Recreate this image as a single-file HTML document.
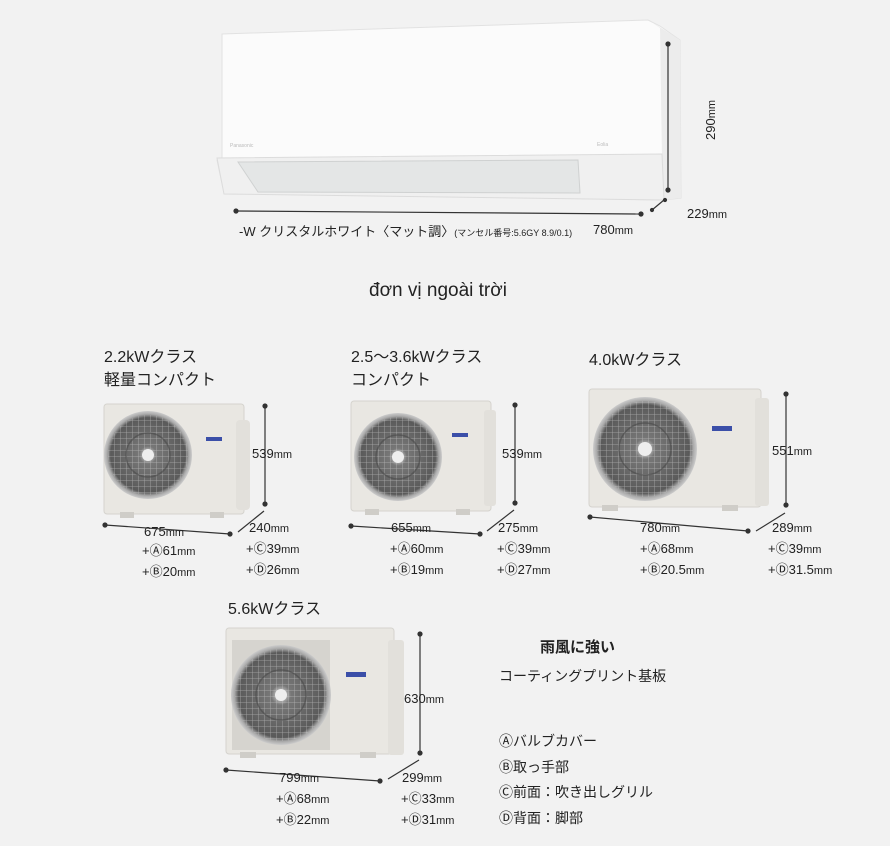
<!DOCTYPE html>
<html><head><meta charset="utf-8"><style>
html,body{margin:0;padding:0;background:#f2f2f2;}
body{width:890px;height:846px;position:relative;overflow:hidden;font-family:"Liberation Sans","Noto Sans CJK JP",sans-serif;color:#222;}
.t{position:absolute;white-space:nowrap;}
svg{position:absolute;left:0;top:0;}
</style></head><body>
<svg width="890" height="846" viewBox="0 0 890 846">
<defs>
<radialGradient id="fan" cx="50%" cy="50%" r="50%">
<stop offset="0" stop-color="#eee"/><stop offset="0.2" stop-color="#777"/><stop offset="0.85" stop-color="#5a5a5a"/><stop offset="0.93" stop-color="#aaa"/><stop offset="1" stop-color="#ccc"/>
</radialGradient>
<pattern id="grill" width="6" height="6" patternUnits="userSpaceOnUse">
<rect width="6" height="6" fill="none"/><path d="M0 0H6M0 0V6" stroke="#ddd" stroke-width="0.8" opacity="0.6"/>
</pattern>
<g id="spokes"><g stroke="#888" stroke-width="1" opacity="0.7">
<line x1="0" y1="-1" x2="0" y2="-1"/></g></g>
</defs>
<!-- indoor unit -->
<path d="M222 34 L648 20 L660 26 L680 40 L681 198 L664 200 L224 193 L217 160 L222 158 Z" fill="#fbfbfb" stroke="#e2e2e2"/>
<path d="M650 21 L680 40 L681 198 L664 200 L662 160 L660 28 Z" fill="#ececec"/>
<path d="M217 158 L662 154 L664 200 L224 194 Z" fill="#f0f0f0" stroke="#dcdcdc"/>
<path d="M238 162 L578 160 L580 193 L258 192 Z" fill="#e4e6e6" stroke="#cfd1d1"/>
<text x="230" y="147" font-size="5" fill="#bbb" font-family="Liberation Sans">Panasonic</text>
<text x="597" y="146" font-size="5" fill="#bbb" font-family="Liberation Sans">Eolia</text>
<!-- indoor dims -->
<g stroke="#333" stroke-width="1.2" fill="#333">
<line x1="668" y1="44" x2="668" y2="190"/><circle cx="668" cy="44" r="2"/><circle cx="668" cy="190" r="2"/>
<line x1="236" y1="211" x2="641" y2="214"/><circle cx="236" cy="211" r="2"/><circle cx="641" cy="214" r="2"/>
<line x1="652" y1="210" x2="664" y2="200"/><circle cx="652" cy="210" r="1.5"/><circle cx="665" cy="200" r="1.5"/>
</g>
<!-- unit 1 -->
<g>
<rect x="104" y="404" width="140" height="110" rx="3" fill="#e9e7e2" stroke="#d5d3ce"/>
<rect x="236" y="420" width="14" height="90" rx="4" fill="#e2e0db"/>
<circle cx="148" cy="455" r="44" fill="url(#fan)"/><circle cx="148" cy="455" r="40" fill="url(#grill)"/><circle cx="148" cy="455" r="6" fill="#eee"/>
<rect x="206" y="437" width="16" height="4" fill="#3b4fa8"/>
<rect x="120" y="512" width="14" height="6" fill="#cfcdc8"/><rect x="210" y="512" width="14" height="6" fill="#cfcdc8"/>
</g>
<!-- unit 2 -->
<g>
<rect x="351" y="401" width="140" height="110" rx="3" fill="#e9e7e2" stroke="#d5d3ce"/>
<rect x="484" y="410" width="12" height="96" rx="3" fill="#e2e0db"/>
<circle cx="398" cy="457" r="44" fill="url(#fan)"/><circle cx="398" cy="457" r="40" fill="url(#grill)"/><circle cx="398" cy="457" r="6" fill="#eee"/>
<rect x="452" y="433" width="16" height="4" fill="#3b4fa8"/>
<rect x="365" y="509" width="14" height="6" fill="#cfcdc8"/><rect x="456" y="509" width="14" height="6" fill="#cfcdc8"/>
</g>
<!-- unit 3 -->
<g>
<rect x="589" y="389" width="172" height="118" rx="3" fill="#e9e7e2" stroke="#d5d3ce"/>
<rect x="755" y="398" width="14" height="108" rx="3" fill="#e2e0db"/>
<circle cx="645" cy="449" r="52" fill="url(#fan)"/><circle cx="645" cy="449" r="48" fill="url(#grill)"/><circle cx="645" cy="449" r="7" fill="#eee"/>
<rect x="712" y="426" width="20" height="5" fill="#3b4fa8"/>
<rect x="602" y="505" width="16" height="6" fill="#cfcdc8"/><rect x="722" y="505" width="16" height="6" fill="#cfcdc8"/>
</g>
<!-- unit 4 -->
<g>
<rect x="226" y="628" width="168" height="126" rx="3" fill="#e9e7e2" stroke="#d5d3ce"/>
<rect x="388" y="640" width="16" height="115" rx="3" fill="#e2e0db"/>
<rect x="232" y="640" width="98" height="110" fill="#d6d4cf"/>
<circle cx="281" cy="695" r="50" fill="url(#fan)"/><circle cx="281" cy="695" r="46" fill="url(#grill)"/><circle cx="281" cy="695" r="6" fill="#eee"/>
<rect x="346" y="672" width="20" height="5" fill="#3b4fa8"/>
<rect x="240" y="752" width="16" height="6" fill="#cfcdc8"/><rect x="360" y="752" width="16" height="6" fill="#cfcdc8"/>
</g>
<g stroke="#333" stroke-width="1.2" fill="#333">
<line x1="265" y1="406" x2="265" y2="504"/><circle cx="265" cy="406" r="2"/><circle cx="265" cy="504" r="2"/>
<line x1="105" y1="525" x2="230" y2="534"/><circle cx="105" cy="525" r="2"/><circle cx="230" cy="534" r="2"/>
<line x1="238" y1="532" x2="264" y2="511"/>
<line x1="515" y1="405" x2="515" y2="503"/><circle cx="515" cy="405" r="2"/><circle cx="515" cy="503" r="2"/>
<line x1="351" y1="526" x2="480" y2="534"/><circle cx="351" cy="526" r="2"/><circle cx="480" cy="534" r="2"/>
<line x1="487" y1="531" x2="514" y2="510"/>
<line x1="786" y1="394" x2="786" y2="505"/><circle cx="786" cy="394" r="2"/><circle cx="786" cy="505" r="2"/>
<line x1="590" y1="517" x2="748" y2="531"/><circle cx="590" cy="517" r="2"/><circle cx="748" cy="531" r="2"/>
<line x1="756" y1="531" x2="785" y2="513"/>
<line x1="420" y1="634" x2="420" y2="753"/><circle cx="420" cy="634" r="2"/><circle cx="420" cy="753" r="2"/>
<line x1="226" y1="770" x2="380" y2="781"/><circle cx="226" cy="770" r="2"/><circle cx="380" cy="781" r="2"/>
<line x1="388" y1="779" x2="419" y2="760"/>
</g>
<!-- spokes -->
<g stroke="#4a4a4a" stroke-width="1.5" fill="none" opacity="0.6">
<circle cx="148" cy="455" r="22"/><circle cx="398" cy="457" r="22"/><circle cx="645" cy="449" r="26"/><circle cx="281" cy="695" r="25"/>
</g>
</svg>
<div class="t" style="left:239px;top:221px;font-size:13px;">-W クリスタルホワイト〈マット調〉<span style="font-size:9px">(マンセル番号:5.6GY 8.9/0.1)</span></div>
<div class="t" style="left:593px;top:222px;font-size:13px;">780<span style="font-size:11px">mm</span></div>
<div class="t" style="left:687px;top:206px;font-size:13px;">229<span style="font-size:11px">mm</span></div>
<div class="t" style="left:703px;top:140px;font-size:13px;transform:rotate(-90deg);transform-origin:left top;">290<span style="font-size:11px">mm</span></div>
<div class="t" style="left:369px;top:280px;font-size:19px;">đơn vị ngoài trời</div>

<div class="t" style="left:104px;top:346px;font-size:16px;line-height:23px;">2.2kWクラス<br>軽量コンパクト</div>
<div class="t" style="left:351px;top:346px;font-size:16px;line-height:23px;">2.5〜3.6kWクラス<br>コンパクト</div>
<div class="t" style="left:589px;top:346px;font-size:16px;">4.0kWクラス</div>
<div class="t" style="left:228px;top:595px;font-size:16px;">5.6kWクラス</div>

<div class="t" style="left:252px;top:446px;font-size:13px;">539<span style="font-size:11px">mm</span></div>
<div class="t" style="left:144px;top:522px;font-size:13px;line-height:19px;">675<span style="font-size:11px">mm</span></div>
<div class="t" style="left:142px;top:541px;font-size:13px;line-height:19px;">+Ⓐ61<span style="font-size:11px">mm</span><br>+Ⓑ20<span style="font-size:11px">mm</span></div>
<div class="t" style="left:249px;top:520px;font-size:13px;">240<span style="font-size:11px">mm</span></div>
<div class="t" style="left:246px;top:539px;font-size:13px;line-height:19px;">+Ⓒ39<span style="font-size:11px">mm</span><br>+Ⓓ26<span style="font-size:11px">mm</span></div>

<div class="t" style="left:502px;top:446px;font-size:13px;">539<span style="font-size:11px">mm</span></div>
<div class="t" style="left:391px;top:520px;font-size:13px;">655<span style="font-size:11px">mm</span></div>
<div class="t" style="left:390px;top:539px;font-size:13px;line-height:19px;">+Ⓐ60<span style="font-size:11px">mm</span><br>+Ⓑ19<span style="font-size:11px">mm</span></div>
<div class="t" style="left:498px;top:520px;font-size:13px;">275<span style="font-size:11px">mm</span></div>
<div class="t" style="left:497px;top:539px;font-size:13px;line-height:19px;">+Ⓒ39<span style="font-size:11px">mm</span><br>+Ⓓ27<span style="font-size:11px">mm</span></div>

<div class="t" style="left:772px;top:443px;font-size:13px;">551<span style="font-size:11px">mm</span></div>
<div class="t" style="left:640px;top:520px;font-size:13px;">780<span style="font-size:11px">mm</span></div>
<div class="t" style="left:640px;top:539px;font-size:13px;line-height:19px;">+Ⓐ68<span style="font-size:11px">mm</span><br>+Ⓑ20.5<span style="font-size:11px">mm</span></div>
<div class="t" style="left:772px;top:520px;font-size:13px;">289<span style="font-size:11px">mm</span></div>
<div class="t" style="left:768px;top:539px;font-size:13px;line-height:19px;">+Ⓒ39<span style="font-size:11px">mm</span><br>+Ⓓ31.5<span style="font-size:11px">mm</span></div>

<div class="t" style="left:404px;top:691px;font-size:13px;">630<span style="font-size:11px">mm</span></div>
<div class="t" style="left:279px;top:770px;font-size:13px;">799<span style="font-size:11px">mm</span></div>
<div class="t" style="left:276px;top:789px;font-size:13px;line-height:19px;">+Ⓐ68<span style="font-size:11px">mm</span><br>+Ⓑ22<span style="font-size:11px">mm</span></div>
<div class="t" style="left:402px;top:770px;font-size:13px;">299<span style="font-size:11px">mm</span></div>
<div class="t" style="left:401px;top:789px;font-size:13px;line-height:19px;">+Ⓒ33<span style="font-size:11px">mm</span><br>+Ⓓ31<span style="font-size:11px">mm</span></div>

<div class="t" style="left:540px;top:636px;font-size:15px;font-weight:bold;">雨風に強い</div>
<div class="t" style="left:499px;top:666px;font-size:14px;">コーティングプリント基板</div>
<div class="t" style="left:499px;top:729px;font-size:14px;line-height:25.5px;">Ⓐバルブカバー<br>Ⓑ取っ手部<br>Ⓒ前面：吹き出しグリル<br>Ⓓ背面：脚部</div>
</body></html>
